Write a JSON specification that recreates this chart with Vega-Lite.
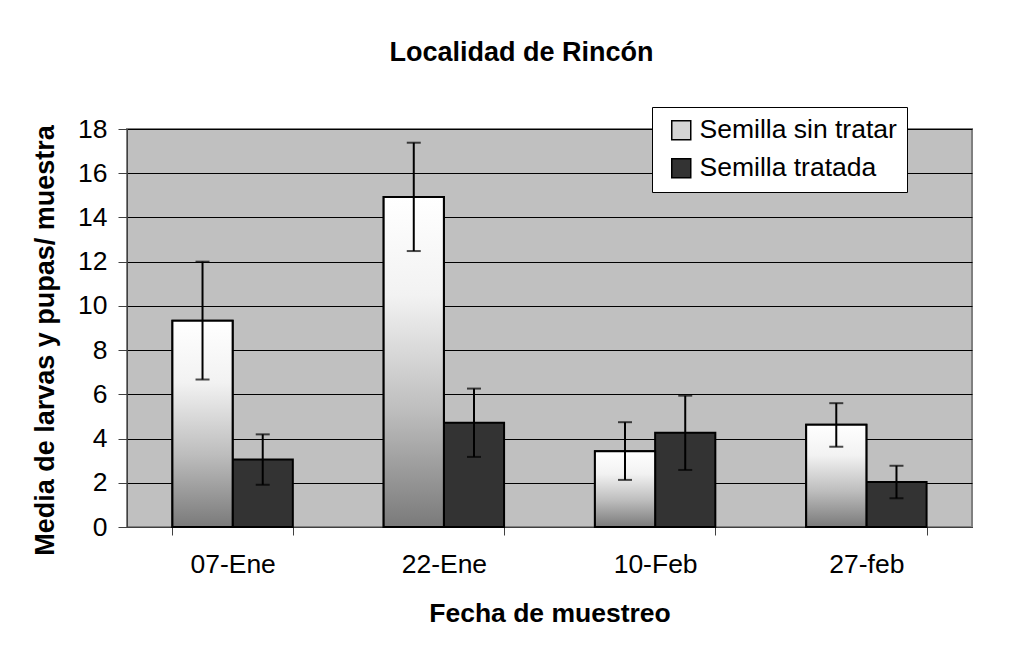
{
  "$schema": "https://vega.github.io/schema/vega-lite/v6.json",
  "width": 845,
  "height": 398,
  "autosize": {"type": "none"},
  "padding": {"left": 127, "top": 129, "right": 42, "bottom": 133},
  "background": "white",
  "title": {
    "text": "Localidad de Rincón",
    "anchor": "middle",
    "frame": "group",
    "dx": -28,
    "offset": 40,
    "font": "Liberation Sans",
    "fontSize": 27,
    "fontWeight": "bold",
    "color": "black"
  },
  "data": {
    "values": [
      {"fecha": "07-Ene", "serie": "Semilla sin tratar", "media": 9.33, "lo": 6.67, "hi": 12.0},
      {"fecha": "07-Ene", "serie": "Semilla tratada", "media": 3.05, "lo": 1.91, "hi": 4.19},
      {"fecha": "22-Ene", "serie": "Semilla sin tratar", "media": 14.92, "lo": 12.48, "hi": 17.38},
      {"fecha": "22-Ene", "serie": "Semilla tratada", "media": 4.71, "lo": 3.17, "hi": 6.26},
      {"fecha": "10-Feb", "serie": "Semilla sin tratar", "media": 3.43, "lo": 2.13, "hi": 4.74},
      {"fecha": "10-Feb", "serie": "Semilla tratada", "media": 4.26, "lo": 2.58, "hi": 5.94},
      {"fecha": "27-feb", "serie": "Semilla sin tratar", "media": 4.62, "lo": 3.63, "hi": 5.6},
      {"fecha": "27-feb", "serie": "Semilla tratada", "media": 2.03, "lo": 1.3, "hi": 2.77}
    ]
  },
  "encoding": {
    "x": {
      "field": "fecha",
      "type": "nominal",
      "sort": ["07-Ene", "22-Ene", "10-Feb", "27-feb"],
      "scale": {"paddingInner": 0.43, "paddingOuter": 0.215},
      "axis": {
        "title": "Fecha de muestreo",
        "labelAngle": 0,
        "tickBand": "extent",
        "tickSize": 8,
        "tickColor": "#404040",
        "domainColor": "#404040",
        "labelPadding": 16,
        "labelFont": "Liberation Sans",
        "labelFontSize": 26.5,
        "labelColor": "black",
        "titleFont": "Liberation Sans",
        "titleFontSize": 26.5,
        "titleFontWeight": "bold",
        "titleColor": "black",
        "titlePadding": 23,
        "grid": false
      }
    },
    "xOffset": {
      "field": "serie",
      "type": "nominal",
      "sort": ["Semilla sin tratar", "Semilla tratada"],
      "scale": {"domain": ["Semilla sin tratar", "Semilla tratada"], "paddingInner": 0, "paddingOuter": 0}
    }
  },
  "layer": [
    {
      "mark": {"type": "bar", "stroke": "black", "strokeWidth": 2},
      "encoding": {
        "y": {
          "field": "media",
          "type": "quantitative",
          "scale": {"domain": [0, 18], "nice": false},
          "axis": {
            "title": "Media de larvas y pupas/ muestra",
            "values": [0, 2, 4, 6, 8, 10, 12, 14, 16, 18],
            "grid": true,
            "gridColor": "black",
            "gridWidth": 1,
            "tickSize": 9,
            "tickColor": "#404040",
            "domainColor": "#404040",
            "labelPadding": 11,
            "labelFont": "Liberation Sans",
            "labelFontSize": 26.5,
            "labelColor": "black",
            "titleFont": "Liberation Sans",
            "titleFontSize": 27,
            "titleFontWeight": "bold",
            "titleColor": "black",
            "titlePadding": 18,
            "titleY": 211
          }
        },
        "fill": {
          "field": "serie",
          "type": "nominal",
          "scale": {"domain": ["Semilla sin tratar", "Semilla tratada"], "range": ["#d4d4d4", "#333333"]},
          "legend": {
            "title": null,
            "orient": "none",
            "legendX": 525,
            "legendY": -22,
            "fillColor": "white",
            "strokeColor": "black",
            "padding": 10,
            "rowPadding": 11,
            "symbolType": "square",
            "symbolSize": 361,
            "symbolOffset": 6,
            "symbolStrokeColor": "black",
            "symbolStrokeWidth": 1.5,
            "labelFont": "Liberation Sans",
            "labelFontSize": 26.5,
            "labelColor": "black",
            "labelOffset": 5,
            "labelLimit": 400,
            "encode": {
              "symbols": {
                "update": {
                  "stroke": {"value": "black"},
                  "strokeWidth": {"value": 1.5}
                }
              }
            }
          }
        }
      }
    },
    {
      "transform": [{"filter": "datum.serie === 'Semilla sin tratar'"}],
      "mark": {
        "type": "bar",
        "stroke": "black",
        "strokeWidth": 2,
        "fill": {
          "gradient": "linear",
          "x1": 0, "y1": 0, "x2": 0, "y2": 1,
          "stops": [
            {"offset": 0, "color": "#ffffff"},
            {"offset": 0.3, "color": "#f2f2f2"},
            {"offset": 0.65, "color": "#bdbdbd"},
            {"offset": 1, "color": "#7a7a7a"}
          ]
        }
      },
      "encoding": {
        "y": {"field": "media", "type": "quantitative"}
      }
    },
    {
      "mark": {"type": "rule", "color": "black", "strokeWidth": 2},
      "encoding": {
        "y": {"field": "lo", "type": "quantitative"},
        "y2": {"field": "hi"}
      }
    },
    {
      "mark": {"type": "tick", "color": "black", "thickness": 2, "size": 14, "orient": "horizontal"},
      "encoding": {
        "y": {"field": "lo", "type": "quantitative"}
      }
    },
    {
      "mark": {"type": "tick", "color": "black", "thickness": 2, "size": 14, "orient": "horizontal"},
      "encoding": {
        "y": {"field": "hi", "type": "quantitative"}
      }
    }
  ],
  "config": {
    "view": {"fill": "#c0c0c0", "stroke": "#808080", "strokeWidth": 2},
    "font": "Liberation Sans"
  }
}
